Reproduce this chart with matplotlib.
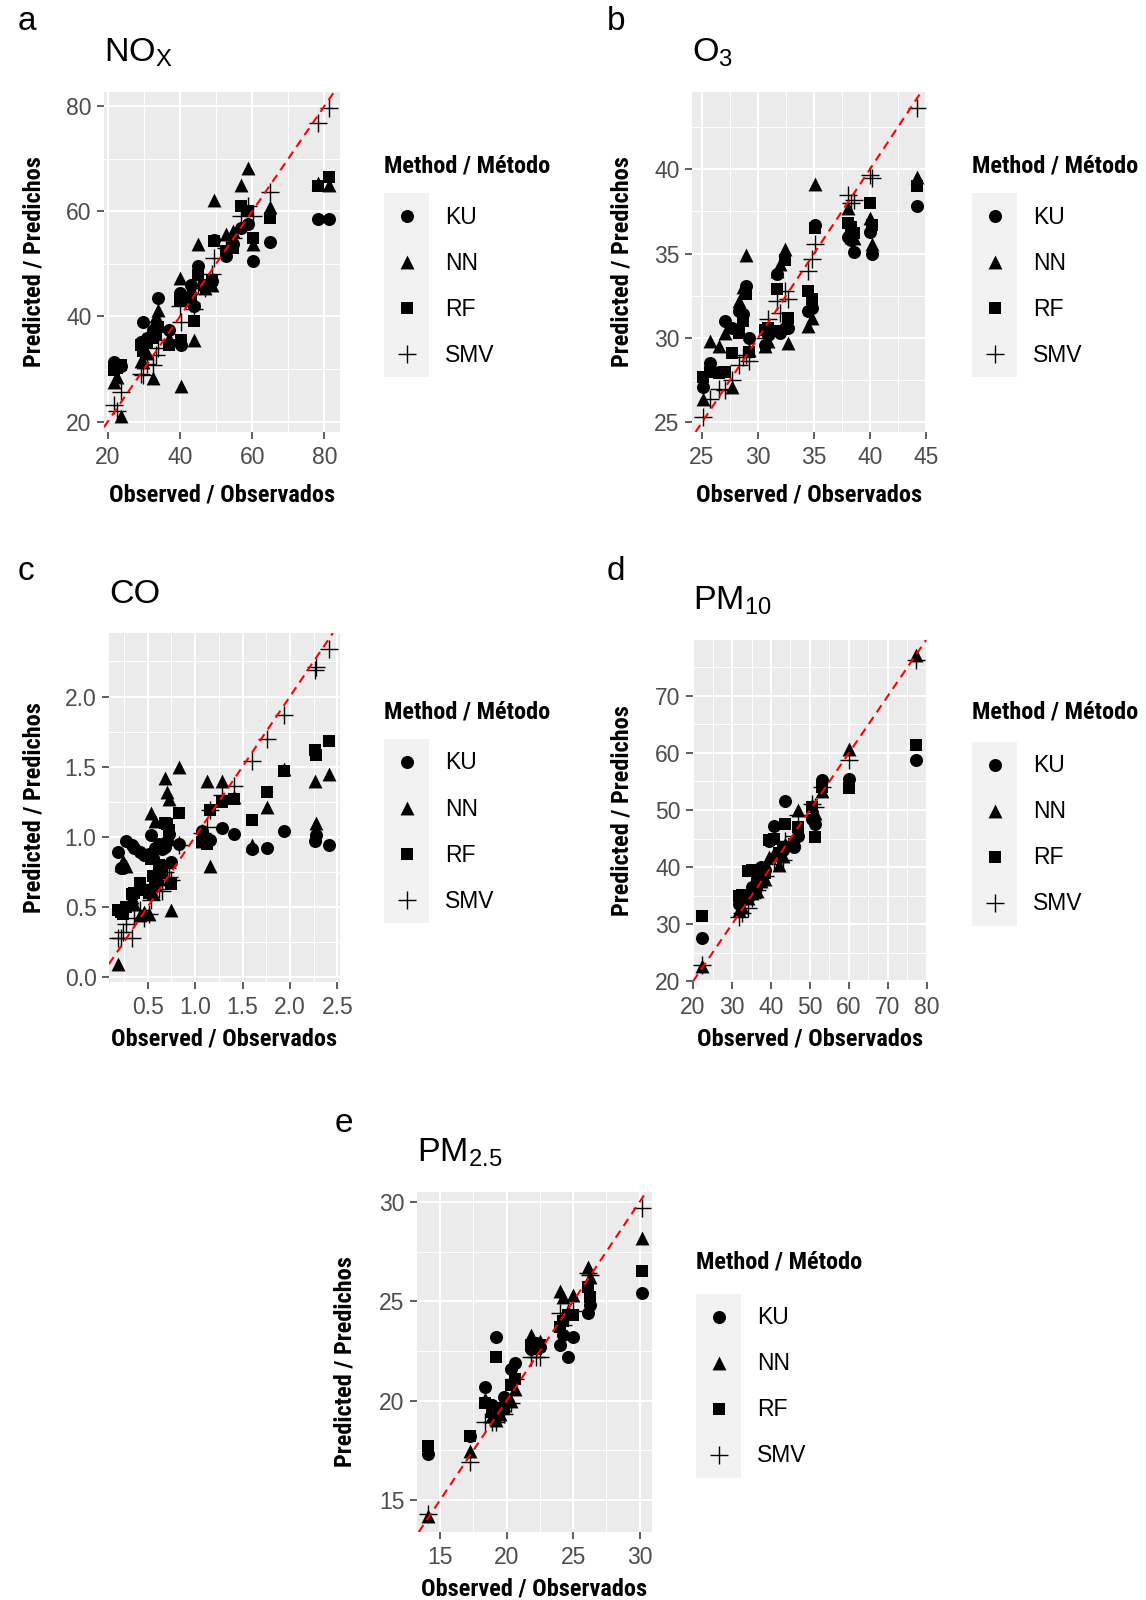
import matplotlib
matplotlib.use('Agg')
import matplotlib.pyplot as plt
from matplotlib import font_manager as fm
from matplotlib.ticker import MultipleLocator, FixedLocator

# ---------------- data ----------------
methods = ['KU', 'NN', 'RF', 'SMV']

obs_nox = [21.8, 22.6, 23.7, 29.2, 29.7, 31.0, 32.5, 33.4, 33.9, 37.1, 39.9, 40.3, 43.1,
           43.8, 44.9, 47.0, 49.0, 49.5, 52.8, 54.6, 56.9, 58.7, 60.2, 65.0, 78.2, 81.2]
ku_nox = [31.4, 30.8, 30.5, 35.2, 39.0, 36.0, 37.5, 38.0, 43.6, 37.5, 44.4, 34.6, 46.0,
          42.0, 49.5, 45.5, 46.7, 54.6, 51.4, 53.7, 56.8, 57.5, 50.6, 54.2, 58.6, 58.6]
nn_nox = [27.6, 28.5, 21.0, 31.5, 31.4, 33.0, 28.3, 40.0, 41.3, 36.0, 47.4, 26.7, 45.5,
          35.6, 53.7, 45.5, 46.0, 62.2, 55.6, 56.2, 65.0, 68.3, 53.7, 60.8, 65.3, 65.0]
rf_nox = [29.8, 30.2, 30.8, 34.6, 33.5, 35.0, 36.0, 36.5, 38.0, 34.6, 42.9, 35.6, 42.9,
          39.2, 47.9, 46.0, 47.0, 54.4, 52.4, 53.0, 61.0, 60.0, 54.9, 58.7, 64.8, 66.5]
smv_nox = [23.2, 22.0, 25.7, 29.0, 28.9, 31.0, 30.8, 32.7, 34.0, 35.5, 42.0, 39.0, 42.5,
           41.5, 46.0, 45.4, 48.0, 51.1, 53.0, 55.0, 59.0, 61.0, 59.0, 63.7, 76.8, 79.7]

obs_o3 = [25.1, 25.7, 26.5, 27.1, 27.7, 28.3, 28.7, 28.9, 29.2, 30.6, 30.9, 31.7,
          32.0, 32.4, 32.7, 34.5, 34.8, 35.1, 38.0, 38.3, 38.6, 40.0, 40.2, 44.2]
ku_o3 = [27.1, 28.5, 28.0, 31.0, 30.6, 31.6, 31.4, 33.1, 30.0, 29.6, 30.2, 33.8,
         30.3, 30.6, 30.6, 31.6, 31.8, 36.7, 36.0, 35.8, 35.1, 36.3, 35.0, 37.8]
nn_o3 = [26.4, 29.8, 29.5, 30.3, 27.1, 32.2, 33.0, 34.9, 29.3, 29.5, 29.8, 34.0,
         34.4, 35.3, 29.7, 30.7, 31.2, 39.1, 37.7, 36.0, 35.9, 37.1, 35.6, 39.55]
rf_o3 = [27.7, 28.0, 27.9, 28.0, 29.1, 30.3, 31.0, 32.6, 29.2, 30.5, 30.6, 32.9,
         30.4, 34.6, 31.2, 32.8, 32.3, 36.5, 36.8, 36.6, 36.2, 38.0, 36.7, 39.0]
smv_o3 = [25.3, 26.4, 27.0, 26.9, 27.5, 28.4, 28.9, 29.0, 28.65, 30.0, 31.1, 32.2,
          31.5, 32.8, 32.3, 33.98, 34.67, 35.56, 38.5, 38.0, 38.2, 39.66, 39.5, 43.65]

obs_co = [0.19, 0.22, 0.24, 0.27, 0.33, 0.36, 0.42, 0.46, 0.51, 0.53, 0.56, 0.58, 0.62, 0.65,
          0.68, 0.70, 0.72, 0.75, 0.83, 1.07, 1.13, 1.16, 1.28, 1.41, 1.60, 1.76, 1.94, 2.26, 2.28, 2.41]
ku_co = [0.89, 0.78, 0.78, 0.97, 0.94, 0.92, 0.89, 0.87, 0.88, 1.01, 0.85, 0.92, 0.95, 0.91,
         0.93, 0.97, 1.02, 0.82, 0.95, 1.04, 0.97, 0.98, 1.06, 1.02, 0.91, 0.92, 1.04, 0.97, 1.01, 0.94]
nn_co = [0.09, 0.80, 0.83, 0.79, 0.57, 0.52, 0.44, 0.46, 0.45, 1.17, 0.60, 1.11, 0.70, 0.75,
         1.42, 1.32, 1.27, 0.48, 1.50, 0.97, 1.40, 0.79, 1.40, 1.28, 0.94, 1.21, 1.48, 1.40, 1.10, 1.45]
rf_co = [0.48, 0.46, 0.45, 0.50, 0.59, 0.60, 0.67, 0.62, 0.60, 0.84, 0.72, 0.67, 0.80, 0.79,
         1.10, 1.09, 1.05, 0.66, 1.17, 0.96, 0.95, 1.19, 1.25, 1.27, 1.12, 1.32, 1.47, 1.62, 1.58, 1.68]
smv_co = [0.28, 0.28, 0.32, 0.38, 0.28, 0.42, 0.48, 0.42, 0.45, 0.55, 0.62, 0.66, 0.63, 0.61,
          0.75, 0.78, 0.71, 0.69, 0.94, 1.03, 1.07, 1.19, 1.30, 1.36, 1.54, 1.70, 1.87, 2.19, 2.21, 2.34]

obs_pm10 = [22.3, 31.8, 32.5, 34.0, 35.0, 36.5, 37.5, 38.5, 39.6, 40.7, 42.0, 43.0, 43.7,
            46.0, 47.0, 50.5, 51.2, 53.1, 59.9, 77.3]
ku_pm10 = [27.5, 33.5, 34.3, 34.5, 36.5, 38.5, 40.0, 39.5, 44.5, 47.2, 42.5, 43.0, 51.6,
           43.5, 45.5, 48.5, 47.6, 55.2, 55.4, 58.7]
nn_pm10 = [22.6, 32.4, 33.0, 34.5, 35.5, 35.9, 37.5, 38.0, 41.8, 42.5, 40.3, 42.0, 44.0,
           45.0, 50.0, 50.9, 49.5, 53.4, 60.6, 77.1]
rf_pm10 = [31.5, 35.0, 35.2, 39.4, 39.5, 37.0, 38.5, 39.0, 44.7, 45.0, 42.5, 43.5, 47.6,
           44.0, 47.0, 50.5, 45.3, 54.1, 53.8, 61.3]
smv_pm10 = [22.9, 31.2, 32.0, 32.9, 34.5, 36.0, 37.0, 38.5, 40.5, 41.0, 41.2, 41.2, 44.5,
            45.5, 49.1, 51.0, 50.5, 54.0, 58.8, 76.2]

obs_pm25 = [14.1, 17.2, 18.4, 18.9, 19.2, 19.5, 19.8, 20.3, 20.6, 21.8, 22.2, 22.5, 24.0,
            24.2, 24.6, 25.0, 26.1, 26.3, 30.2]
ku_pm25 = [17.3, 18.2, 20.7, 19.8, 23.2, 19.5, 20.2, 21.6, 21.9, 22.6, 22.9, 22.7, 22.8,
           23.3, 22.2, 23.2, 24.4, 24.8, 25.4]
nn_pm25 = [14.2, 17.45, 20.1, 19.2, 19.0, 19.3, 19.8, 20.0, 20.6, 23.3, 22.9, 23.0, 25.5,
           25.2, 24.5, 25.3, 26.7, 26.2, 28.2]
rf_pm25 = [17.7, 18.2, 19.9, 19.4, 22.2, 19.6, 19.6, 20.8, 21.1, 22.8, 22.6, 22.8, 23.7,
           24.0, 24.3, 24.3, 25.7, 25.2, 26.5]
smv_pm25 = [14.3, 16.9, 18.9, 18.9, 18.9, 19.3, 19.3, 19.9, 21.1, 22.2, 22.2, 22.2, 24.4,
            23.8, 24.4, 24.5, 26.4, 26.3, 29.7]

# ---------------- fonts ----------------
names = {f.name for f in fm.fontManager.ttflist}
reg = 'Liberation Sans' if 'Liberation Sans' in names else 'DejaVu Sans'
cond = reg
for cand in ['Roboto Condensed', 'Liberation Sans Narrow', 'Open Sans Condensed', 'Arial Narrow']:
    if cand in names:
        cond = cand
        break
plt.rcParams['font.family'] = [reg, 'DejaVu Sans']
plt.rcParams['mathtext.fontset'] = 'custom'
plt.rcParams['mathtext.rm'] = reg

W, H = 1146, 1600
fig = plt.figure(figsize=(W / 100, H / 100), dpi=100)


def rect(l, t, r, b):
    return [l / W, 1 - b / H, (r - l) / W, (b - t) / H]


def ftext(x, y, s, **kw):
    fig.text(x / W, 1 - y / H, s, **kw)


bold_cond = dict(family=[cond, 'DejaVu Sans'], weight='bold', stretch='condensed')

panels = [
    dict(letter='a', title=r'$\mathregular{NO_X}$', box=(104, 92, 340, 432),
         xlim=(18.97, 84.3), ylim=(18.04, 82.66), xt=[20, 40, 60, 80], yt=[20, 40, 60, 80],
         xm=10, ym=10, data=(obs_nox, ku_nox, nn_nox, rf_nox, smv_nox), fmt='{:g}',
         letter_xy=(18, 22), ylab_x=34, xlab_y=495, leg=(384, 166, 216)),
    dict(letter='b', title=r'$\mathregular{O_3}$', box=(692, 92, 927, 432),
         xlim=(24.11, 45.1), ylim=(24.43, 44.58), xt=[25, 30, 35, 40, 45], yt=[25, 30, 35, 40],
         xm=2.5, ym=2.5, data=(obs_o3, ku_o3, nn_o3, rf_o3, smv_o3), fmt='{:g}',
         letter_xy=(607, 22), ylab_x=622, xlab_y=495, leg=(972, 166, 216)),
    dict(letter='c', title='CO', box=(109, 633, 340, 982),
         xlim=(0.092, 2.528), ylim=(-0.036, 2.453), xt=[0.5, 1.0, 1.5, 2.0, 2.5],
         yt=[0.0, 0.5, 1.0, 1.5, 2.0], xm=0.25, ym=0.25,
         data=(obs_co, ku_co, nn_co, rf_co, smv_co), fmt='{:.1f}',
         letter_xy=(18, 571), ylab_x=34, xlab_y=1039, leg=(384, 712, 762)),
    dict(letter='d', title=r'$\mathregular{PM_{10}}$', box=(693, 640, 927, 982),
         xlim=(20.0, 80.0), ylim=(19.88, 79.76), xt=[20, 30, 40, 50, 60, 70, 80],
         yt=[20, 30, 40, 50, 60, 70], xm=5, ym=5,
         data=(obs_pm10, ku_pm10, nn_pm10, rf_pm10, smv_pm10), fmt='{:g}',
         letter_xy=(607, 571), ylab_x=622, xlab_y=1039, leg=(972, 712, 765)),
    dict(letter='e', title=r'$\mathregular{PM_{2.5}}$', box=(417, 1192, 652, 1532),
         xlim=(13.25, 30.93), ylim=(13.38, 30.5), xt=[15, 20, 25, 30], yt=[15, 20, 25, 30],
         xm=2.5, ym=2.5, data=(obs_pm25, ku_pm25, nn_pm25, rf_pm25, smv_pm25), fmt='{:g}',
         letter_xy=(335, 1124), ylab_x=345, xlab_y=1589, leg=(696, 1262, 1317)),
]

marker_kw = {
    'KU': dict(marker='o', s=88, linewidths=0),
    'NN': dict(marker='^', s=100, linewidths=0),
    'RF': dict(marker='s', s=66, linewidths=0),
    'SMV': dict(marker='+', s=165, linewidths=1.0),
}

for p in panels:
    l, t, r, b = p['box']
    ax = fig.add_axes(rect(l, t, r, b))
    ax.set_facecolor('#EBEBEB')
    for sp in ax.spines.values():
        sp.set_visible(False)
    ax.set_xlim(*p['xlim'])
    ax.set_ylim(*p['ylim'])
    ax.xaxis.set_major_locator(FixedLocator(p['xt']))
    ax.yaxis.set_major_locator(FixedLocator(p['yt']))
    ax.xaxis.set_minor_locator(MultipleLocator(p['xm']))
    ax.yaxis.set_minor_locator(MultipleLocator(p['ym']))
    ax.set_xticklabels([p['fmt'].format(v) for v in p['xt']])
    ax.set_yticklabels([p['fmt'].format(v) for v in p['yt']])
    ax.grid(True, which='major', color='white', lw=1.5)
    ax.grid(True, which='minor', color='white', lw=0.75)
    ax.set_axisbelow(True)
    ax.tick_params(which='major', length=5, width=1.1, color='#333333',
                   labelsize=16.5, labelcolor='#4D4D4D', pad=4)
    ax.tick_params(axis='x', which='major', pad=5)
    ax.tick_params(which='minor', length=0)
    obs, *preds = p['data']
    for m, pr in zip(methods, preds):
        ax.scatter(obs, pr, color='black', zorder=3, **marker_kw[m])
    ax.axline((0, 0), slope=1, color='red', lw=1.5, ls=(0, (4.0, 2.8)), zorder=4)

    # labels
    ftext(p['letter_xy'][0], p['letter_xy'][1], p['letter'], fontsize=24,
          ha='left', va='center', color='black')
    ty = t - 39
    ftext(l, ty, p['title'], fontsize=24.5, ha='left', va='center', color='black')
    ftext(p['ylab_x'], (t + b) / 2, 'Predicted / Predichos', rotation=90, fontsize=17.5,
          ha='center', va='center', **bold_cond)
    ftext((l + r) / 2, p['xlab_y'], 'Observed / Observados', fontsize=17.5,
          ha='center', va='center', **bold_cond)

    # legend
    lx, ly, first = p['leg']
    ftext(lx, ly, 'Method / Método', fontsize=17.5, ha='left', va='center', **bold_cond)
    step = 46
    lax = fig.add_axes(rect(lx, first - 23, lx + 45, first + 3 * step + 23))
    lax.set_xlim(0, 1)
    lax.set_ylim(4, 0)
    lax.axis('off')
    lax.add_patch(plt.Rectangle((0, 0), 1, 4, color='#F2F2F2', zorder=0))
    for i, m in enumerate(methods):
        kw = dict(marker_kw[m])
        lax.scatter([0.5], [i + 0.5], color='black', zorder=2, **kw)
        ftext(lx + 61, first + i * step + 1, m, fontsize=16.5, ha='left', va='center',
              color='black')

fig.savefig('out.png', dpi=100)
